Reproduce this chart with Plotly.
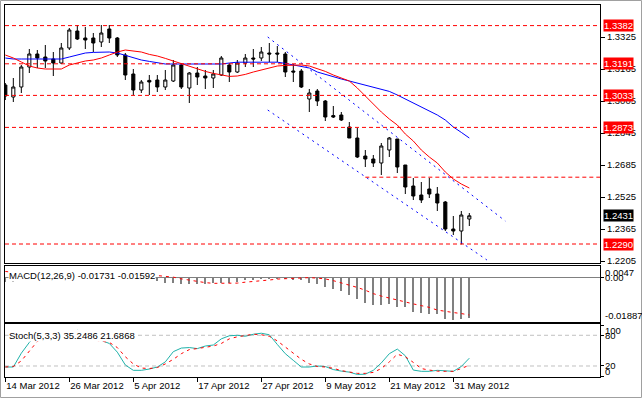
import plotly.graph_objects as go

# ---------------- data ----------------
date_labels = ["14 Mar 2012", "26 Mar 2012", "5 Apr 2012", "17 Apr 2012",
               "27 Apr 2012", "9 May 2012", "21 May 2012", "31 May 2012"]
date_label_bars = [0, 8, 16, 24, 32, 40, 48, 56]

open_ = [1.3085, 1.3025, 1.3075, 1.3175, 1.3240, 1.3225, 1.3215, 1.3195, 1.3270, 1.3355,
         1.3320, 1.3320, 1.3300, 1.3365, 1.3320, 1.3235, 1.3140, 1.3060, 1.3108, 1.3110,
         1.3075, 1.3105, 1.3185, 1.3070, 1.3145, 1.3130, 1.3120, 1.3135, 1.3185, 1.3150,
         1.3195, 1.3220, 1.3220, 1.3245, 1.3245, 1.3240, 1.3155, 1.3155, 1.3015, 1.3055,
         1.3005, 1.2932, 1.2935, 1.2875, 1.2820, 1.2730, 1.2715, 1.2695, 1.2760, 1.2815,
         1.2685, 1.2580, 1.2535, 1.2565, 1.2540, 1.2500, 1.2365, 1.2355, 1.2415]
high = [1.3095, 1.3120, 1.3185, 1.3265, 1.3260, 1.3285, 1.3250, 1.3295, 1.3370, 1.3385,
        1.3375, 1.3345, 1.3385, 1.3385, 1.3325, 1.3245, 1.3165, 1.3110, 1.3135, 1.3135,
        1.3160, 1.3210, 1.3195, 1.3150, 1.3175, 1.3160, 1.3160, 1.3230, 1.3195, 1.3210,
        1.3240, 1.3265, 1.3275, 1.3295, 1.3280, 1.3250, 1.3190, 1.3165, 1.3065, 1.3065,
        1.3010, 1.2980, 1.2950, 1.2900, 1.2870, 1.2760, 1.2735, 1.2795, 1.2825, 1.2815,
        1.2685, 1.2620, 1.2600, 1.2620, 1.2575, 1.2505, 1.2430, 1.2455, 1.2445]
low = [1.3010, 1.3000, 1.3045, 1.3145, 1.3170, 1.3170, 1.3130, 1.3190, 1.3260, 1.3310,
       1.3265, 1.3250, 1.3275, 1.3295, 1.3225, 1.3110, 1.3035, 1.3045, 1.3035, 1.3050,
       1.3060, 1.3100, 1.3065, 1.2995, 1.3085, 1.3065, 1.3070, 1.3130, 1.3100, 1.3145,
       1.3175, 1.3175, 1.3205, 1.3200, 1.3200, 1.3125, 1.3100, 1.3070, 1.2950, 1.2980,
       1.2905, 1.2920, 1.2905, 1.2820, 1.2720, 1.2675, 1.2675, 1.2635, 1.2725, 1.2645,
       1.2540, 1.2510, 1.2495, 1.2520, 1.2455, 1.2355, 1.2335, 1.2288, 1.2380]
close = [1.3030, 1.3075, 1.3175, 1.3240, 1.3220, 1.3205, 1.3195, 1.3270, 1.3360, 1.3315,
         1.3310, 1.3295, 1.3345, 1.3320, 1.3235, 1.3135, 1.3060, 1.3100, 1.3100, 1.3075,
         1.3110, 1.3185, 1.3075, 1.3145, 1.3125, 1.3120, 1.3140, 1.3220, 1.3150, 1.3195,
         1.3220, 1.3215, 1.3250, 1.3240, 1.3240, 1.3150, 1.3150, 1.3075, 1.3045, 1.3005,
         1.2925, 1.2925, 1.2910, 1.2820, 1.2725, 1.2715, 1.2695, 1.2780, 1.2820, 1.2675,
         1.2575, 1.2530, 1.2510, 1.2540, 1.2495, 1.2365, 1.2355, 1.2435, 1.2431]

ma_fast = [1.3235, 1.3220, 1.3200, 1.3180, 1.3170, 1.3165, 1.3165, 1.3165, 1.3185, 1.3195,
           1.3205, 1.3210, 1.3220, 1.3235, 1.3250, 1.3260, 1.3255, 1.3250, 1.3238, 1.3230,
           1.3218, 1.3205, 1.3193, 1.3180, 1.3165, 1.3153, 1.3143, 1.3135, 1.3128, 1.3130,
           1.3138, 1.3150, 1.3160, 1.3173, 1.3180, 1.3183, 1.3185, 1.3185, 1.3180, 1.3168,
           1.3153, 1.3135, 1.3120, 1.3105, 1.3070, 1.3030, 1.2985, 1.2950, 1.2915, 1.2885,
           1.2840, 1.2805, 1.2760, 1.2725, 1.2695, 1.2650, 1.2615, 1.2590, 1.2570]
ma_slow = [1.3220, 1.3215, 1.3215, 1.3215, 1.3215, 1.3215, 1.3215, 1.3215, 1.3225, 1.3235,
           1.3245, 1.3248, 1.3250, 1.3250, 1.3245, 1.3233, 1.3220, 1.3210, 1.3203, 1.3195,
           1.3190, 1.3190, 1.3190, 1.3188, 1.3188, 1.3188, 1.3188, 1.3190, 1.3195, 1.3199,
           1.3199, 1.3199, 1.3199, 1.3199, 1.3199, 1.3193, 1.3185, 1.3180, 1.3170, 1.3150,
           1.3138, 1.3125, 1.3115, 1.3105, 1.3095, 1.3085, 1.3075, 1.3065, 1.3053, 1.3035,
           1.3015, 1.2995, 1.2975, 1.2958, 1.2935, 1.2910, 1.2875, 1.2848, 1.2820]

price_ticks = [1.3325, 1.3165, 1.3005, 1.2845, 1.2685, 1.2525, 1.2365, 1.2205]
level_prices = [1.3382, 1.3191, 1.3033, 1.2873, 1.2290]
partial_level = 1.2624
partial_level_start_bar = 45
channel_upper_bars = [32.8, 62.5]
channel_upper_prices = [1.3325, 1.2405]
channel_lower_bars = [32.8, 60.2]
channel_lower_prices = [1.2960, 1.2210]

macd_main = [-0.0020, -0.0021, -0.0018, -0.0008, 0.0003, 0.0010, 0.0014, 0.0016, 0.0020, 0.0022,
             0.0023, 0.0023, 0.0024, 0.0024, 0.0021, 0.0012, 0.0002, -0.0005, -0.0012, -0.0018,
             -0.0026, -0.0023, -0.0029, -0.0029, -0.0029, -0.0029, -0.0026, -0.0023, -0.0023, -0.0019,
             -0.0014, -0.0012, -0.0009, -0.0009, -0.0007, -0.0009, -0.0012, -0.0014, -0.0023, -0.0030,
             -0.0041, -0.0048, -0.0058, -0.0077, -0.0091, -0.0108, -0.0117, -0.0117, -0.0113, -0.0127,
             -0.0127, -0.0145, -0.0149, -0.0153, -0.0156, -0.0176, -0.0179, -0.0177, -0.01731]
macd_signal = [0.0024, 0.0020, 0.0016, 0.0012, 0.0010, 0.0010, 0.0011, 0.0012, 0.0013, 0.0015,
               0.0017, 0.0018, 0.0019, 0.0020, 0.0020, 0.0019, 0.0017, 0.0014, 0.0011, 0.0008,
               0.0005, 0.0000, -0.0007, -0.0013, -0.0019, -0.0023, -0.0026, -0.0026, -0.0026, -0.0025,
               -0.0021, -0.0019, -0.0016, -0.0012, -0.0008, -0.0006, -0.0004, -0.0003, -0.0002, -0.0004,
               -0.00074, -0.00147, -0.00234, -0.00333, -0.00433, -0.00550, -0.00693, -0.00797, -0.00883, -0.00982,
               -0.01069, -0.01125, -0.01199, -0.01272, -0.01385, -0.01445, -0.01489, -0.01532, -0.01592]
macd_max_label = 0.0047
macd_min_label = -0.01887

stoch_main = [18, 18, 45, 66, 82, 88, 80, 72, 82, 90,
              80, 72, 70, 64, 47, 22, 11.5, 11.5, 14, 18,
              28, 48, 55, 56, 54, 59, 61, 73, 79, 80,
              78, 82, 84, 81, 62, 44, 31, 18, 18, 20,
              19, 13, 10, 8, 3.5, 4, 11.5, 26, 44, 53,
              40, 12, 9.6, 9.6, 11.5, 11, 9.6, 19, 35.2486]
stoch_signal = [18, 19, 30, 48, 68, 78, 83, 82, 78, 80,
                78, 71, 69, 66, 56, 38, 24, 16, 15, 17,
                24, 33, 44, 52, 54, 56, 59, 64, 73, 77,
                79, 82, 81, 78, 69, 57, 46, 33, 24, 19,
                18, 15.5, 11, 8, 5.6, 5.6, 7.5, 15, 28, 43,
                38, 27, 15, 12, 10, 9.6, 9.6, 15, 21.6868]
stoch_levels = [20, 80]
stoch_axis_labels = [100, 80, 20, 0]

# ---------------- figure ----------------
W, H = 642, 398
ML, MR, MT, MB = 5, 42, 5, 21
PW = W - ML - MR
PH = H - MT - MB


def px_x(px):
    return (px - ML) / PW


def px_y(py):
    return (H - MB - py) / PH


xs = list(range(len(close)))
x_range = [-0.04, PW / 8 - 0.04]
FONT = "Liberation Sans"
FS = 9.5

fig = go.Figure()

fig.add_trace(go.Candlestick(
    x=xs, open=open_, high=high, low=low, close=close,
    increasing=dict(line=dict(color="black", width=1), fillcolor="white"),
    decreasing=dict(line=dict(color="black", width=1), fillcolor="black"),
    whiskerwidth=0, xaxis="x", yaxis="y", hoverinfo="skip", showlegend=False))

fig.add_trace(go.Scatter(x=xs, y=ma_slow, mode="lines", line=dict(color="#0000FF", width=1),
                         xaxis="x", yaxis="y", showlegend=False, hoverinfo="skip"))
fig.add_trace(go.Scatter(x=xs, y=ma_fast, mode="lines", line=dict(color="#FF0000", width=1),
                         xaxis="x", yaxis="y", showlegend=False, hoverinfo="skip"))

for bx, py in ((channel_upper_bars, channel_upper_prices), (channel_lower_bars, channel_lower_prices)):
    fig.add_trace(go.Scatter(x=bx, y=py, mode="lines",
                             line=dict(color="#0000FF", width=1, dash="2px,4px"),
                             xaxis="x", yaxis="y", showlegend=False, hoverinfo="skip"))

# MACD
fig.add_trace(go.Bar(x=xs, y=macd_main, width=0.14, marker=dict(color="#808080", line=dict(width=0)),
                     xaxis="x2", yaxis="y2", showlegend=False, hoverinfo="skip"))
fig.add_trace(go.Scatter(x=xs, y=macd_signal, mode="lines",
                         line=dict(color="#FF0000", width=1, dash="3px,4px"),
                         xaxis="x2", yaxis="y2", showlegend=False, hoverinfo="skip"))

# Stochastic
fig.add_trace(go.Scatter(x=xs, y=stoch_main, mode="lines", line=dict(color="#20B2AA", width=1),
                         xaxis="x3", yaxis="y3", showlegend=False, hoverinfo="skip"))
fig.add_trace(go.Scatter(x=xs, y=stoch_signal, mode="lines",
                         line=dict(color="#FF0000", width=1, dash="3px,4px"),
                         xaxis="x3", yaxis="y3", showlegend=False, hoverinfo="skip"))

shapes = []
for lv in level_prices:
    shapes.append(dict(type="line", xref="x domain", x0=0, x1=1, yref="y", y0=lv, y1=lv,
                       line=dict(color="#FF0000", width=1, dash="4px,3px")))
shapes.append(dict(type="line", xref="x", x0=partial_level_start_bar, x1=x_range[1], yref="y",
                   y0=partial_level, y1=partial_level,
                   line=dict(color="#FF0000", width=1, dash="4px,3px")))
for lv in stoch_levels:
    shapes.append(dict(type="line", xref="x3 domain", x0=0, x1=1, yref="y3", y0=lv, y1=lv,
                       line=dict(color="#C0C0C0", width=1, dash="4px,3px"), layer="below"))
# window frame
shapes.append(dict(type="rect", xref="paper", yref="paper", x0=px_x(0.5), x1=px_x(W - 0.5),
                   y0=px_y(H - 0.5), y1=px_y(0.5), line=dict(color="#A0A0A0", width=1)))

annotations = []
for lv in level_prices:
    annotations.append(dict(xref="paper", x=px_x(603), xanchor="left", yref="y", y=lv,
                            yanchor="middle", text=f"{lv:.4f}", showarrow=False,
                            bgcolor="#FF0000", font=dict(color="white", size=FS, family=FONT),
                            borderpad=0, height=11))
annotations.append(dict(xref="paper", x=px_x(603), xanchor="left", yref="y", y=close[-1],
                        yanchor="middle", text=f"{close[-1]:.4f}", showarrow=False,
                        bgcolor="#000000", font=dict(color="white", size=FS, family=FONT),
                        borderpad=0, height=11))

macd_text = f"MACD(12,26,9) {macd_main[-1]:.5f} {macd_signal[-1]:.5f}"
annotations.append(dict(xref="paper", x=px_x(8), xanchor="left", yref="y2 domain", y=1,
                        yanchor="top", yshift=-3, text=macd_text, showarrow=False,
                        bgcolor="white", borderpad=0,
                        font=dict(color="black", size=FS, family=FONT)))
stoch_text = f"Stoch(5,3,3) {stoch_main[-1]:.4f} {stoch_signal[-1]:.4f}"
annotations.append(dict(xref="paper", x=px_x(8), xanchor="left", yref="y3 domain", y=1,
                        yanchor="top", yshift=-5, text=stoch_text, showarrow=False,
                        bgcolor="white", borderpad=0,
                        font=dict(color="black", size=FS, family=FONT)))

for val, sh in ((macd_max_label, -6), (0.0, 0), (macd_min_label, 7)):
    txt = "0.00" if val == 0 else (f"{val:.4f}" if val > 0 else f"{val:.5f}")
    annotations.append(dict(xref="paper", x=px_x(603), xanchor="left", yref="y2", y=val,
                            yanchor="middle", yshift=sh, text=txt, showarrow=False,
                            font=dict(color="black", size=FS, family=FONT)))
for val, sh in zip(stoch_axis_labels, (-5, 0, 0, 5)):
    annotations.append(dict(xref="paper", x=px_x(603), xanchor="left", yref="y3", y=val,
                            yanchor="middle", yshift=sh, text=str(val), showarrow=False,
                            font=dict(color="black", size=FS, family=FONT)))

axis_common = dict(showline=True, mirror=True, linecolor="black", linewidth=1,
                   showgrid=False, zeroline=False, automargin=False)

fig.update_layout(
    width=W, height=H,
    margin=dict(l=ML, r=MR, t=MT, b=MB, pad=0, autoexpand=False),
    paper_bgcolor="white", plot_bgcolor="white",
    showlegend=False, boxgap=0.45, bargap=0,
    font=dict(family=FONT, size=FS, color="black"),
    xaxis=dict(domain=[0, 1], anchor="y", range=x_range, showticklabels=False, ticks="",
               rangeslider=dict(visible=False), **axis_common),
    xaxis2=dict(domain=[0, 1], anchor="y2", range=x_range, matches="x", showticklabels=False,
                ticks="", **axis_common),
    xaxis3=dict(domain=[0, 1], anchor="y3", range=x_range, matches="x",
                tickmode="array", tickvals=date_label_bars, ticktext=date_labels,
                ticks="outside", ticklen=4, tickcolor="black",
                ticklabelposition="outside right",
                tickfont=dict(family=FONT, size=FS, color="black"), **axis_common),
    yaxis=dict(domain=[px_y(263), 1], anchor="x", side="right",
               range=[1.3510 - 263 / 2000, 1.3510 - 5 / 2000],
               tickmode="array", tickvals=price_ticks, ticktext=[f"{t:.4f}" for t in price_ticks],
               ticks="outside", ticklen=4, tickcolor="black",
               tickfont=dict(family=FONT, size=FS, color="black"), **axis_common),
    yaxis2=dict(domain=[px_y(322), px_y(266)], anchor="x2", side="right",
                range=[macd_min_label, macd_max_label],
                tickmode="array", tickvals=[0], ticks="outside", ticklen=3, tickcolor="black",
                showticklabels=False, showline=True, mirror=True, linecolor="black",
                linewidth=1, showgrid=False, zeroline=True, zerolinecolor="#808080",
                zerolinewidth=1, automargin=False),
    yaxis3=dict(domain=[0, px_y(324)], anchor="x3", side="right", range=[-1.5, 102],
                tickmode="array", tickvals=[0, 20, 80, 100], ticks="outside", ticklen=3,
                tickcolor="black", showticklabels=False, **axis_common),
    shapes=shapes,
    annotations=annotations,
)

fig.write_html("out.html", config={"displayModeBar": False},
               post_script="document.body.style.margin='0px';")
